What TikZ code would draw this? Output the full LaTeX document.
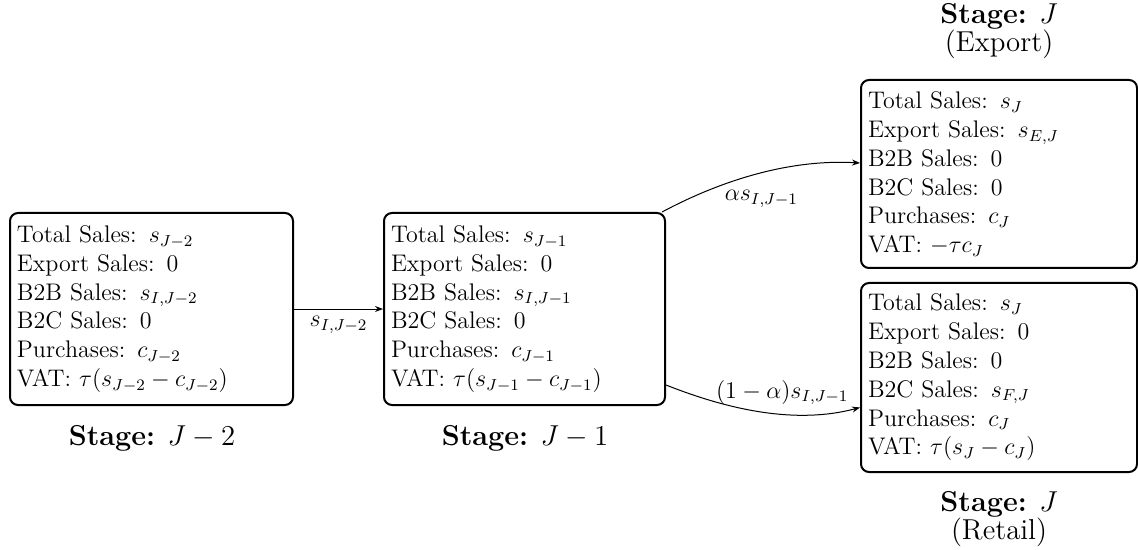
\documentclass[tikz,border=0pt]{standalone}
\usetikzlibrary{arrows.meta}
\begin{document}
\begin{tikzpicture}[x=0.5pt,y=-0.5pt,
  stagebox/.style={draw, line width=1pt, rounded corners=4pt, align=left,
    inner xsep=3.5pt, font=\fontsize{12}{14.4}\selectfont},
  flow/.style={-{Stealth[length=4pt,width=3pt]}, line width=0.5pt},
  stagelabel/.style={font=\fontsize{14.4}{14}\selectfont, align=center, inner sep=0pt},
  flowlabel/.style={font=\fontsize{12}{14.4}\selectfont}]
\useasboundingbox (0,0) rectangle (1138,550);

\node[stagebox, text width=134.5pt, minimum height=96pt] (b1) at (151.5,309) {%
Total Sales: $s_{J-2}$\\
Export Sales: 0\\
B2B Sales: $s_{I,J-2}$\\
B2C Sales: 0\\
Purchases: $c_{J-2}$\\
VAT: $\tau(s_{J-2}-c_{J-2})$};

\node[stagebox, text width=133.5pt, minimum height=96pt] (b2) at (524.5,309) {%
Total Sales: $s_{J-1}$\\
Export Sales: 0\\
B2B Sales: $s_{I,J-1}$\\
B2C Sales: 0\\
Purchases: $c_{J-1}$\\
VAT: $\tau(s_{J-1}-c_{J-1})$};

\node[stagebox, text width=131pt, minimum height=94pt] (b3) at (999,174) {%
Total Sales: $s_{J}$\\
Export Sales: $s_{E,J}$\\
B2B Sales: 0\\
B2C Sales: 0\\
Purchases: $c_{J}$\\
VAT: $-\tau c_{J}$};

\node[stagebox, text width=131pt, minimum height=94.5pt] (b4) at (999,377.5) {%
Total Sales: $s_{J}$\\
Export Sales: 0\\
B2B Sales: 0\\
B2C Sales: $s_{F,J}$\\
Purchases: $c_{J}$\\
VAT: $\tau(s_{J}-c_{J})$};

\node[stagelabel, anchor=base] (l1) at (152,445) {\textbf{Stage:} $J-2$};
\node[stagelabel, anchor=base] (l2) at (525,445) {\textbf{Stage:} $J-1$};
\node[stagelabel] (l3) at (999,31) {\textbf{Stage:} $J$\\(Export)};
\node[stagelabel] (l4) at (999,519) {\textbf{Stage:} $J$\\(Retail)};

\draw[flow] (b1.east) -- node[flowlabel, below] (f1) {$s_{I,J-2}$} (b2.west);

\draw[flow] ([xshift=-2pt]b2.north east) .. controls +(60,-32) and +(-70,-4) ..
  node[flowlabel, pos=0.52, below=5pt] (f2) {$\alpha s_{I,J-1}$}
  ([yshift=5.5pt]b3.west);

\draw[flow] ([yshift=-38pt]b2.east) .. controls +(63,25) and +(-64,17) ..
  node[flowlabel, pos=0.6, above=1pt] (f3) {$(1-\alpha)s_{I,J-1}$}
  ([yshift=-15pt]b4.west);
\end{tikzpicture}
\end{document}
